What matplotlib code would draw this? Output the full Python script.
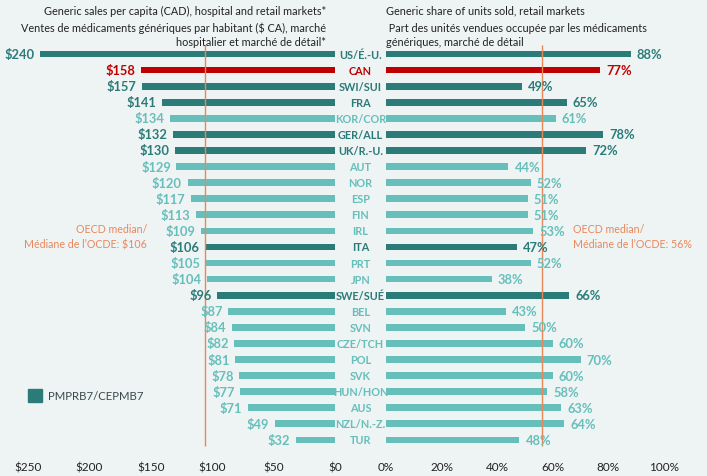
import matplotlib

matplotlib.use("Agg")
import matplotlib.pyplot as plt
import matplotlib.transforms as mtransforms

plt.rcParams["font.family"] = ["Lato", "DejaVu Sans"]

# data
countries = ["US/É.-U.", "CAN", "SWI/SUI", "FRA", "KOR/COR", "GER/ALL", "UK/R.-U.",
             "AUT", "NOR", "ESP", "FIN", "IRL", "ITA", "PRT", "JPN", "SWE/SUÉ",
             "BEL", "SVN", "CZE/TCH", "POL", "SVK", "HUN/HON", "AUS", "NZL/N.-Z.", "TUR"]
sales = [240, 158, 157, 141, 134, 132, 130, 129, 120, 117, 113, 109, 106, 105, 104, 96,
         87, 84, 82, 81, 78, 77, 71, 49, 32]
share = [88, 77, 49, 65, 61, 78, 72, 44, 52, 51, 51, 53, 47, 52, 38, 66,
         43, 50, 60, 70, 60, 58, 63, 64, 48]
pmprb7 = ["US/É.-U.", "SWI/SUI", "FRA", "GER/ALL", "UK/R.-U.", "ITA", "SWE/SUÉ"]
median_sales = 106
median_share = 56
sales_ticks = [250, 200, 150, 100, 50, 0]
share_ticks = [0, 20, 40, 60, 80, 100]

BG = "#EEF3F4"
DARK = "#2B7B79"
LIGHT = "#66BFBA"
RED = "#C00000"
ORANGE = "#E8875A"
TXT = "#222222"


def color_for(c):
    if c == "CAN":
        return RED
    if c in pmprb7:
        return DARK
    return LIGHT


colors = [color_for(c) for c in countries]
rows = list(range(len(countries)))

W, H = 707, 477
fig = plt.figure(figsize=(W / 100, H / 100), dpi=100, facecolor=BG)

# axes geometry in pixels
top_px, bot_px = 45, 450
y_first, step = 55, 16.08
ylim_top = -(y_first - top_px) / step
ylim_bot = (len(countries) - 1) + (bot_px - (y_first + step * (len(countries) - 1))) / step

l_zero, l_scale = 335, 1.229
l_max = 262
axl = fig.add_axes([(l_zero - l_max * l_scale) / W, (H - bot_px) / H,
                    l_max * l_scale / W, (bot_px - top_px) / H])
r_zero, r_scale = 386, 2.78
r_max = 105
axr = fig.add_axes([r_zero / W, (H - bot_px) / H,
                    r_max * r_scale / W, (bot_px - top_px) / H])

for ax in (axl, axr):
    ax.set_facecolor("none")
    for s in ax.spines.values():
        s.set_visible(False)
    ax.set_ylim(ylim_bot, ylim_top)
    ax.set_yticks([])
    ax.tick_params(axis="x", length=0, pad=9, labelsize=8.5, labelcolor="#222222")

axl.set_xlim(l_max, 0)
axr.set_xlim(0, r_max)

bh = 0.42
axl.barh(rows, sales, height=bh, color=colors)
axr.barh(rows, share, height=bh, color=colors)

axl.set_xticks(sales_ticks)
axl.set_xticklabels([f"${t}" for t in sales_ticks])
axr.set_xticks(share_ticks)
axr.set_xticklabels([f"{t}%" for t in share_ticks])

# median lines
axl.vlines(median_sales, -0.55, len(countries) - 0.6, color=ORANGE, lw=1)
axr.vlines(median_share, -0.55, len(countries) - 0.6, color=ORANGE, lw=1)

# value labels
for i, (v, s, c) in enumerate(zip(sales, share, colors)):
    axl.text(v + 4.5, i, f"${v}", ha="right", va="center", color=c,
             fontsize=9.3, fontweight="bold")
    axr.text(s + 2.2, i, f"{s}%", ha="left", va="center", color=c,
             fontsize=9.3, fontweight="bold")

# country labels
trans = mtransforms.blended_transform_factory(fig.transFigure, axl.transData)
for i, (name, c) in enumerate(zip(countries, colors)):
    fig.text(360.5 / W, i, name, transform=trans, ha="center", va="center",
             color=c, fontsize=7.8, fontweight="bold")

# headers
hs = 7.8
fig.text(326 / W, 1 - 11 / H, "Generic sales per capita (CAD), hospital and retail markets*",
         ha="right", va="center", fontsize=hs, color=TXT)
fig.text(326 / W, 1 - 28 / H, "Ventes de médicaments génériques par habitant ($ CA), marché",
         ha="right", va="center", fontsize=hs, color=TXT)
fig.text(326 / W, 1 - 43 / H, "hospitalier et marché de détail*",
         ha="right", va="center", fontsize=hs, color=TXT)
fig.text(386 / W, 1 - 11 / H, "Generic share of units sold, retail markets",
         ha="left", va="center", fontsize=hs, color=TXT)
fig.text(386 / W, 1 - 28 / H, " Part des unités vendues occupée par les médicaments",
         ha="left", va="center", fontsize=hs, color=TXT)
fig.text(386 / W, 1 - 43 / H, "génériques, marché de détail",
         ha="left", va="center", fontsize=hs, color=TXT)

# median annotations
ms = 7.7
fig.text(147 / W, 1 - 230 / H, "OECD median/", ha="right", va="center",
         fontsize=ms, color=ORANGE)
fig.text(147 / W, 1 - 245 / H, "Médiane de l’OCDE: $106", ha="right", va="center",
         fontsize=ms, color=ORANGE)
fig.text(573 / W, 1 - 230 / H, "OECD median/", ha="left", va="center",
         fontsize=ms, color=ORANGE)
fig.text(573 / W, 1 - 245 / H, "Médiane de l’OCDE: 56%", ha="left", va="center",
         fontsize=ms, color=ORANGE)

# legend
fig.patches.append(plt.Rectangle((28 / W, 1 - 403 / H), 14 / W, 13 / H,
                                 transform=fig.transFigure, color=DARK))
fig.text(48 / W, 1 - 397 / H, "PMPRB7/CEPMB7", ha="left", va="center",
         fontsize=8.2, color="#3a4a4a")

fig.savefig("out.png", dpi=100, facecolor=BG)
